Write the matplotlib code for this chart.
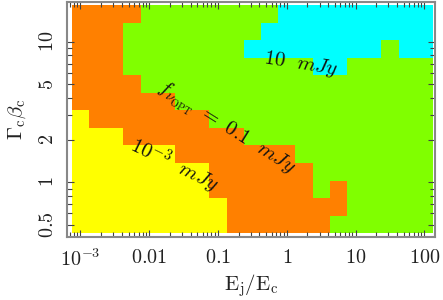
import numpy as np
import matplotlib
matplotlib.use("Agg")
import matplotlib.pyplot as plt
from matplotlib.colors import ListedColormap, BoundaryNorm
from matplotlib.ticker import FixedLocator, NullFormatter, LogLocator

plt.rcParams['mathtext.fontset'] = 'cm'
plt.rcParams['font.family'] = ['DejaVu Serif']

# Flux categories: Y = <1e-3 mJy, O = 1e-3..0.1 mJy, G = 0.1..10 mJy, C = >10 mJy
category_codes = ['Y', 'O', 'G', 'C']
category_colors = ['#ffff00', '#ff8000', '#80ff00', '#00ffff']

# cell centres (log10)
log_ej = [-3.0, -2.75, -2.5, -2.25, -2.0, -1.75, -1.5, -1.25, -1.0, -0.75, -0.5,
          -0.25, 0.0, 0.25, 0.5, 0.75, 1.0, 1.25, 1.5, 1.75, 2.0]
log_gb = [1.199, 1.074, 0.949, 0.824, 0.699, 0.574, 0.449, 0.324, 0.199,
          0.074, -0.051, -0.176, -0.301]  # top -> bottom

# map, one string per column (left -> right), characters top -> bottom
columns = [
    "OOOOOOYYYYYYY",
    "OOOOOOOYYYYYY",
    "OOOOOOOYYYYYY",
    "OGGGOOOOYYYYY",
    "GGGGGOOOYYYYY",
    "GGGGGOOOYYYYY",
    "GGGGGGOOOYYYY",
    "GGGGGGOOOYYYY",
    "GGGGGGGOOOOYY",
    "GGGGGGGOOOOOO",
    "GGCGGGGGOOOOO",
    "GCCGGGGGOOOOO",
    "CCCGGGGGOOOOO",
    "CCCGGGGGGOOOO",
    "CCCCGGGGGGGOO",
    "CCCCGGGGGGOOG",
    "CCCGGGGGGGGGG",
    "CCCGGGGGGGGGG",
    "CCGGGGGGGGGGG",
    "CCCGGGGGGGGGG",
    "CCCGGGGGGGGGG",
]

x_ticks = [1e-3, 1e-2, 1e-1, 1, 10, 100]
x_ticklabels = [r'$10^{-3}$', r'$0.01$', r'$0.1$', r'$1$', r'$10$', r'$100$']
y_ticks = [0.5, 1, 2, 5, 10]
y_ticklabels = [r'$0.5$', r'$1$', r'$2$', r'$5$', r'$10$']

# build grid
Z = np.array([[category_codes.index(c) for c in col] for col in columns]).T  # rows top->bottom
Z = Z[::-1]  # bottom -> top
lx = np.array(log_ej)
ly = np.array(log_gb)[::-1]
dx = lx[1] - lx[0]
dy = ly[1] - ly[0]
xedges = 10 ** np.concatenate([lx - dx / 2, [lx[-1] + dx / 2]])
yedges = 10 ** np.concatenate([ly - dy / 2, [ly[-1] + dy / 2]])

fig = plt.figure(figsize=(4.43, 3.00), dpi=100)
ax = fig.add_axes([0.1506, 0.21, 0.9819 - 0.1506, 0.9933 - 0.21])
cmap = ListedColormap(category_colors)
norm = BoundaryNorm([-0.5, 0.5, 1.5, 2.5, 3.5], 4)
ax.pcolormesh(xedges, yedges, Z, cmap=cmap, norm=norm, shading='flat')

ax.set_xscale('log')
ax.set_yscale('log')
ax.set_xlim(10 ** -3.2, 10 ** 2.155)
ax.set_ylim(10 ** -0.39, 10 ** 1.283)

ax.xaxis.set_major_locator(FixedLocator(x_ticks))
ax.set_xticklabels(x_ticklabels, fontsize=14.5)
ax.yaxis.set_major_locator(FixedLocator(y_ticks))
ax.set_yticklabels(y_ticklabels, fontsize=14.5, rotation=90, va='center')
ax.xaxis.set_minor_locator(LogLocator(base=10, subs=np.arange(2, 10), numticks=20))
ax.yaxis.set_minor_locator(LogLocator(base=10, subs=np.arange(2, 10), numticks=20))
ax.xaxis.set_minor_formatter(NullFormatter())
ax.yaxis.set_minor_formatter(NullFormatter())

ax.tick_params(which='both', direction='in', top=True, right=True, color='#444444',
               labelcolor='#222222')
ax.tick_params(which='major', length=5, width=0.8)
ax.tick_params(which='minor', length=3.5, width=0.8)
ax.tick_params(axis='x', which='major', pad=8)
ax.tick_params(axis='y', which='major', pad=7)
for s in ax.spines.values():
    s.set_color('#888888')
    s.set_linewidth(1.5)

ax.set_xlabel(r'$\mathrm{E_j/E_c}$', fontsize=15, color='#222222', labelpad=2)
ax.set_ylabel(r'$\Gamma_{\rm c}\beta_{\rm c}$', fontsize=15, color='#222222', labelpad=7)

ax.text(0.636, 0.735, r'$10\ \ mJy$', transform=ax.transAxes, fontsize=15,
        rotation=-9, ha='center', va='center', color='#111111')
ax.text(0.432, 0.462, r'$f_{\nu_{\rm OPT}}\ =\ 0.1\ \ mJy$', transform=ax.transAxes,
        fontsize=15, rotation=-32, ha='center', va='center', color='#111111')
ax.text(0.292, 0.305, r'$10^{-3}\ \ mJy$', transform=ax.transAxes, fontsize=15,
        rotation=-26, ha='center', va='center', color='#111111')

fig.savefig('out.png', dpi=100)
